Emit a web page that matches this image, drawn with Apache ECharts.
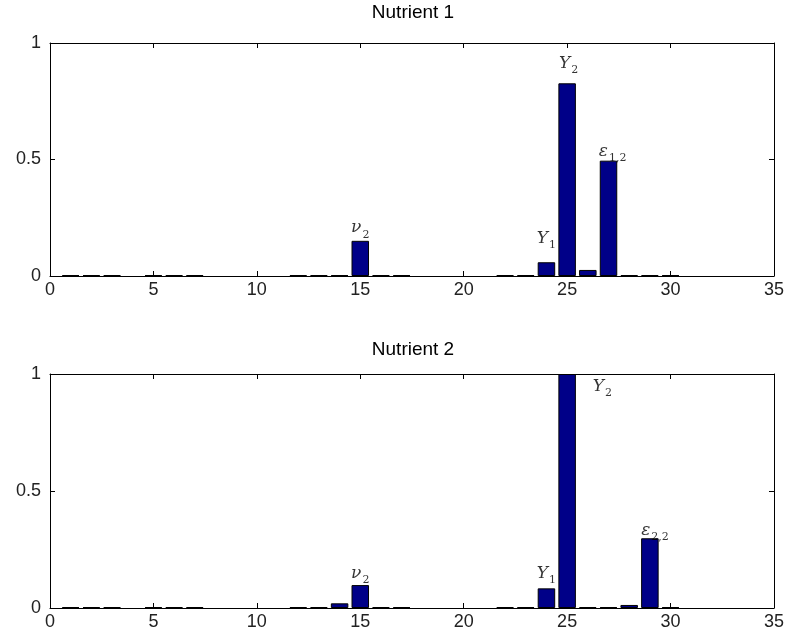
<!DOCTYPE html>
<html><head><meta charset="utf-8">
<script src="https://cdn.jsdelivr.net/npm/echarts@6/dist/echarts.min.js"></script>
<style>html,body{margin:0;padding:0;background:#fff}#c{width:787px;height:641px}</style>
</head><body><div id="c"></div>
<script>
// Data
const positions = [1,2,3,5,6,7,12,13,14,15,16,17,22,23,24,25,26,27,28,29,30];
const nutrient1 = [0.004,0.004,0.004,0.004,0.004,0.004,0.004,0.004,0.004,0.151,0.004,0.004,0.004,0.004,0.059,0.827,0.026,0.495,0.004,0.004,0.004];
const nutrient2 = [0.004,0.004,0.004,0.004,0.004,0.004,0.004,0.004,0.02,0.098,0.004,0.004,0.004,0.004,0.084,1.0,0.004,0.004,0.013,0.298,0.004];
const titles = ['Nutrient 1','Nutrient 2'];
const xTicks = [0,5,10,15,20,25,30,35];
const yTicks = [0,0.5,1];
// annotations: [x, y, main, subscript]
const notes1 = [[15,0.20,'ν','2'],[24,0.155,'Y','1'],[25.07,0.905,'Y','2'],[27.2,0.528,'ε','1,2']];
const notes2 = [[15,0.141,'ν','2'],[24,0.141,'Y','1'],[26.7,0.94,'Y','2'],[29.25,0.326,'ε','2,2']];

const chart = echarts.init(document.getElementById('c'));
const grids = [{left:50,top:43,width:727,height:233},{left:50,top:374,width:727,height:234}];
const font = 'Liberation Sans, Arial, sans-serif';
const xAxes=[], yAxes=[], series=[];
const datasets=[nutrient1,nutrient2], notes=[notes1,notes2];
grids.forEach((g,i)=>{
  const common = {type:'value',min:xTicks[0],max:xTicks[xTicks.length-1],interval:5,gridIndex:i,
    axisLine:{show:true,onZero:false,lineStyle:{color:'#000',width:1}},
    axisTick:{show:true,inside:true,length:5,lineStyle:{color:'#000'}},
    splitLine:{show:false}};
  xAxes.push(Object.assign({},common,{position:'bottom',
    axisLabel:{show:true,color:'#222',fontFamily:font,fontSize:18,margin:5}}));
  xAxes.push(Object.assign({},common,{position:'top',axisLabel:{show:false}}));
  const ycommon = {type:'value',min:yTicks[0],max:yTicks[yTicks.length-1],interval:0.5,gridIndex:i,
    axisLine:{show:true,onZero:false,lineStyle:{color:'#000',width:1}},
    axisTick:{show:true,inside:true,length:5,lineStyle:{color:'#000'}},
    splitLine:{show:false}};
  yAxes.push(Object.assign({},ycommon,{position:'left',
    axisLabel:{show:true,color:'#222',fontFamily:font,fontSize:18,margin:9}}));
  yAxes.push(Object.assign({},ycommon,{position:'right',axisLabel:{show:false}}));
  series.push({type:'bar',xAxisIndex:i*2,yAxisIndex:i*2,
    data:positions.map((p,k)=>[p,datasets[i][k]]),
    barWidth:17.5,
    itemStyle:{color:'#000088',borderColor:'#000',borderWidth:1},
    clip:true, silent:true});
  series.push({type:'scatter',xAxisIndex:i*2,yAxisIndex:i*2,symbolSize:0,silent:true,
    data:notes[i].map(n=>({value:[n[0],n[1]],main:n[2],sub:n[3]})),
    label:{show:true,position:'inside',
      formatter:p=>'{m|'+p.data.main+'}{s|'+p.data.sub+'}',
      rich:{m:{fontFamily:'DejaVu Serif, serif',fontStyle:'italic',fontSize:17,color:'#000',verticalAlign:'top',lineHeight:20},
            s:{fontFamily:'DejaVu Serif, serif',fontSize:11,color:'#000',verticalAlign:'top',lineHeight:12,padding:[10,0,0,1]}}}});
});
chart.setOption({
  animation:false,
  backgroundColor:'#fff',
  graphic:[
    {type:'text',x:413,y:3,style:{text:titles[0],textAlign:'center',fontFamily:font,fontSize:19,fill:'#000'}},
    {type:'text',x:413,y:340,style:{text:titles[1],textAlign:'center',fontFamily:font,fontSize:19,fill:'#000'}}
  ],
  grid:grids,
  xAxis:xAxes,
  yAxis:yAxes,
  series:series
});
</script></body></html>
